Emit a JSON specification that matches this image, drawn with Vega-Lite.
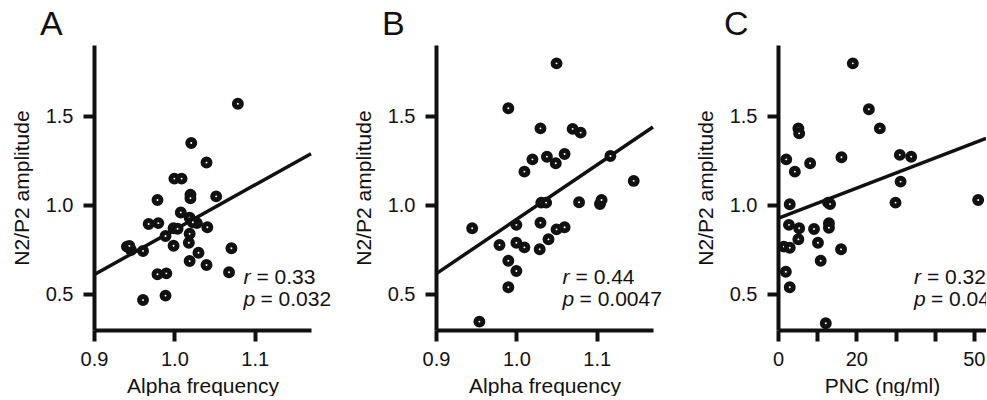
{
  "$schema": "https://vega.github.io/schema/vega-lite/v6.json",
  "padding": {"left": 11, "top": 8, "right": 0, "bottom": 0},
  "background": "white",
  "config": {
    "view": {"stroke": null},
    "font": "Liberation Sans",
    "axis": {"grid": false, "domainColor": "#111", "domainWidth": 4, "tickColor": "#111", "tickWidth": 4, "tickSize": 11, "labelFontSize": 20, "labelColor": "#111", "titleFontSize": 21, "titleFontWeight": "normal", "titleColor": "#111", "labelFont": "Liberation Sans", "titleFont": "Liberation Sans", "labelFlush": false, "labelOverlap": false, "labelBound": false},
    "axisY": {"labelPadding": 10, "titlePadding": 13},
    "axisX": {"labelPadding": 8, "titlePadding": 6},
    "title": {"fontSize": 34, "fontWeight": "normal", "anchor": "start", "frame": "group", "dx": -54, "offset": 3, "color": "#111", "font": "Liberation Sans"}
  },
  "datasets": {
    "pa": [
      {"x": 1.079, "y": 1.57}, {"x": 1.021, "y": 1.35}, {"x": 1.040, "y": 1.24}, {"x": 1.000, "y": 1.15}, {"x": 1.009, "y": 1.15},
      {"x": 1.020, "y": 1.06}, {"x": 1.020, "y": 1.04}, {"x": 1.052, "y": 1.05}, {"x": 0.979, "y": 1.03}, {"x": 1.008, "y": 0.96},
      {"x": 1.019, "y": 0.93}, {"x": 0.968, "y": 0.895}, {"x": 0.980, "y": 0.90}, {"x": 1.028, "y": 0.90}, {"x": 1.041, "y": 0.877},
      {"x": 0.999, "y": 0.871}, {"x": 1.019, "y": 0.84}, {"x": 0.989, "y": 0.828}, {"x": 1.018, "y": 0.79}, {"x": 0.999, "y": 0.773},
      {"x": 0.941, "y": 0.768}, {"x": 0.946, "y": 0.749}, {"x": 0.961, "y": 0.744}, {"x": 1.071, "y": 0.759}, {"x": 1.030, "y": 0.734},
      {"x": 1.019, "y": 0.687}, {"x": 1.040, "y": 0.665}, {"x": 1.068, "y": 0.624}, {"x": 0.979, "y": 0.613}, {"x": 0.990, "y": 0.618},
      {"x": 0.989, "y": 0.493}, {"x": 0.961, "y": 0.468}, {"x": 0.944, "y": 0.772}, {"x": 1.004, "y": 0.868}, {"x": 1.023, "y": 0.905}
    ],
    "pb": [
      {"x": 1.050, "y": 1.797}, {"x": 0.990, "y": 1.545}, {"x": 1.030, "y": 1.432}, {"x": 1.070, "y": 1.429}, {"x": 1.080, "y": 1.408},
      {"x": 1.020, "y": 1.258}, {"x": 1.038, "y": 1.273}, {"x": 1.049, "y": 1.236}, {"x": 1.060, "y": 1.288}, {"x": 1.010, "y": 1.189},
      {"x": 1.117, "y": 1.277}, {"x": 1.146, "y": 1.137}, {"x": 1.031, "y": 1.015}, {"x": 1.037, "y": 1.015}, {"x": 1.078, "y": 1.017},
      {"x": 1.104, "y": 1.007}, {"x": 1.106, "y": 1.030}, {"x": 0.945, "y": 0.871}, {"x": 1.000, "y": 0.890}, {"x": 1.030, "y": 0.902},
      {"x": 1.050, "y": 0.865}, {"x": 1.060, "y": 0.877}, {"x": 0.979, "y": 0.777}, {"x": 1.000, "y": 0.790}, {"x": 1.010, "y": 0.764},
      {"x": 1.029, "y": 0.753}, {"x": 1.040, "y": 0.809}, {"x": 0.990, "y": 0.689}, {"x": 1.000, "y": 0.631}, {"x": 0.990, "y": 0.540},
      {"x": 0.954, "y": 0.347}
    ],
    "pc": [
      {"x": 19.1, "y": 1.797}, {"x": 23.2, "y": 1.539}, {"x": 26.0, "y": 1.432}, {"x": 5.2, "y": 1.432}, {"x": 5.4, "y": 1.404},
      {"x": 2.1, "y": 1.258}, {"x": 8.2, "y": 1.236}, {"x": 16.2, "y": 1.270}, {"x": 4.3, "y": 1.189}, {"x": 31.1, "y": 1.283},
      {"x": 34.0, "y": 1.273}, {"x": 31.3, "y": 1.133}, {"x": 30.0, "y": 1.015}, {"x": 51.1, "y": 1.030}, {"x": 3.0, "y": 1.006},
      {"x": 12.8, "y": 1.015}, {"x": 13.3, "y": 1.007}, {"x": 2.8, "y": 0.890}, {"x": 5.4, "y": 0.871}, {"x": 9.2, "y": 0.867},
      {"x": 13.0, "y": 0.899}, {"x": 13.0, "y": 0.874}, {"x": 5.2, "y": 0.809}, {"x": 1.5, "y": 0.768}, {"x": 3.0, "y": 0.762},
      {"x": 10.2, "y": 0.790}, {"x": 16.1, "y": 0.753}, {"x": 10.9, "y": 0.689}, {"x": 2.0, "y": 0.627}, {"x": 3.0, "y": 0.540},
      {"x": 12.2, "y": 0.338}
    ],
    "la": [{"x": 0.9, "y": 0.61}, {"x": 1.17, "y": 1.29}],
    "lb": [{"x": 0.9, "y": 0.615}, {"x": 1.17, "y": 1.44}],
    "lc": [{"x": 0, "y": 0.927}, {"x": 53.1, "y": 1.376}],
    "ta": [{"sym": "r", "val": "= 0.33", "x": 1.086, "y": 0.592}, {"sym": "p", "val": "= 0.032", "x": 1.086, "y": 0.468}],
    "tb": [{"sym": "r", "val": "= 0.44", "x": 1.0575, "y": 0.592}, {"sym": "p", "val": "= 0.0047", "x": 1.0575, "y": 0.468}],
    "tc": [{"sym": "r", "val": "= 0.32", "x": 34.7, "y": 0.592}, {"sym": "p", "val": "= 0.044", "x": 34.7, "y": 0.468}]
  },
  "hconcat": [
    {
      "width": 217, "height": 285,
      "title": {"text": "A"},
      "encoding": {
        "x": {"field": "x", "type": "quantitative", "scale": {"domain": [0.9, 1.17], "nice": false, "zero": false}, "axis": {"values": [0.9, 1.0, 1.1], "format": ".1f", "title": "Alpha frequency"}},
        "y": {"field": "y", "type": "quantitative", "scale": {"domain": [0.3, 1.9], "nice": false, "zero": false}, "axis": {"values": [0.5, 1.0, 1.5], "format": ".1f", "title": "N2/P2 amplitude"}}
      },
      "layer": [
        {"data": {"name": "la"}, "mark": {"type": "line", "color": "#111", "strokeWidth": 3.5}},
        {"data": {"name": "pa"}, "mark": {"type": "point", "shape": "circle", "filled": false, "fill": "white", "stroke": "#111", "strokeWidth": 5, "size": 48, "opacity": 1}},
        {"data": {"name": "ta"}, "mark": {"type": "text", "align": "left", "baseline": "middle", "fontSize": 21, "fontStyle": "italic", "color": "#111"}, "encoding": {"text": {"field": "sym"}}},
        {"data": {"name": "ta"}, "transform": [{"filter": "datum.sym == 'r'"}], "mark": {"type": "text", "align": "left", "baseline": "middle", "fontSize": 21, "dx": 13, "color": "#111"}, "encoding": {"text": {"field": "val"}}},
        {"data": {"name": "ta"}, "transform": [{"filter": "datum.sym == 'p'"}], "mark": {"type": "text", "align": "left", "baseline": "middle", "fontSize": 21, "dx": 17, "color": "#111"}, "encoding": {"text": {"field": "val"}}}
      ]
    },
    {
      "width": 217, "height": 285,
      "title": {"text": "B"},
      "encoding": {
        "x": {"field": "x", "type": "quantitative", "scale": {"domain": [0.9, 1.17], "nice": false, "zero": false}, "axis": {"values": [0.9, 1.0, 1.1], "format": ".1f", "title": "Alpha frequency"}},
        "y": {"field": "y", "type": "quantitative", "scale": {"domain": [0.3, 1.9], "nice": false, "zero": false}, "axis": {"values": [0.5, 1.0, 1.5], "format": ".1f", "title": "N2/P2 amplitude"}}
      },
      "layer": [
        {"data": {"name": "lb"}, "mark": {"type": "line", "color": "#111", "strokeWidth": 3.5}},
        {"data": {"name": "pb"}, "mark": {"type": "point", "shape": "circle", "filled": false, "fill": "white", "stroke": "#111", "strokeWidth": 5, "size": 48, "opacity": 1}},
        {"data": {"name": "tb"}, "mark": {"type": "text", "align": "left", "baseline": "middle", "fontSize": 21, "fontStyle": "italic", "color": "#111"}, "encoding": {"text": {"field": "sym"}}},
        {"data": {"name": "tb"}, "transform": [{"filter": "datum.sym == 'r'"}], "mark": {"type": "text", "align": "left", "baseline": "middle", "fontSize": 21, "dx": 13, "color": "#111"}, "encoding": {"text": {"field": "val"}}},
        {"data": {"name": "tb"}, "transform": [{"filter": "datum.sym == 'p'"}], "mark": {"type": "text", "align": "left", "baseline": "middle", "fontSize": 21, "dx": 17, "color": "#111"}, "encoding": {"text": {"field": "val"}}}
      ]
    },
    {
      "width": 208, "height": 285,
      "title": {"text": "C"},
      "encoding": {
        "x": {"field": "x", "type": "quantitative", "scale": {"domain": [0, 53.1], "nice": false, "zero": false}, "axis": {"values": [0, 10, 20, 30, 40, 50], "labelExpr": "datum.value == 0 || datum.value == 20 || datum.value == 50 ? datum.label : ''", "title": "PNC (ng/ml)"}},
        "y": {"field": "y", "type": "quantitative", "scale": {"domain": [0.3, 1.9], "nice": false, "zero": false}, "axis": {"values": [0.5, 1.0, 1.5], "format": ".1f", "title": "N2/P2 amplitude"}}
      },
      "layer": [
        {"data": {"name": "lc"}, "mark": {"type": "line", "color": "#111", "strokeWidth": 3.5, "clip": true}},
        {"data": {"name": "pc"}, "mark": {"type": "point", "shape": "circle", "filled": false, "fill": "white", "stroke": "#111", "strokeWidth": 5, "size": 48, "opacity": 1, "clip": true}},
        {"data": {"name": "tc"}, "mark": {"type": "text", "align": "left", "baseline": "middle", "fontSize": 21, "fontStyle": "italic", "color": "#111", "clip": true}, "encoding": {"text": {"field": "sym"}}},
        {"data": {"name": "tc"}, "transform": [{"filter": "datum.sym == 'r'"}], "mark": {"type": "text", "align": "left", "baseline": "middle", "fontSize": 21, "dx": 13, "color": "#111", "clip": true}, "encoding": {"text": {"field": "val"}}},
        {"data": {"name": "tc"}, "transform": [{"filter": "datum.sym == 'p'"}], "mark": {"type": "text", "align": "left", "baseline": "middle", "fontSize": 21, "dx": 17, "color": "#111", "clip": true}, "encoding": {"text": {"field": "val"}}}
      ]
    }
  ],
  "spacing": 125,
  "bounds": "flush"
}
